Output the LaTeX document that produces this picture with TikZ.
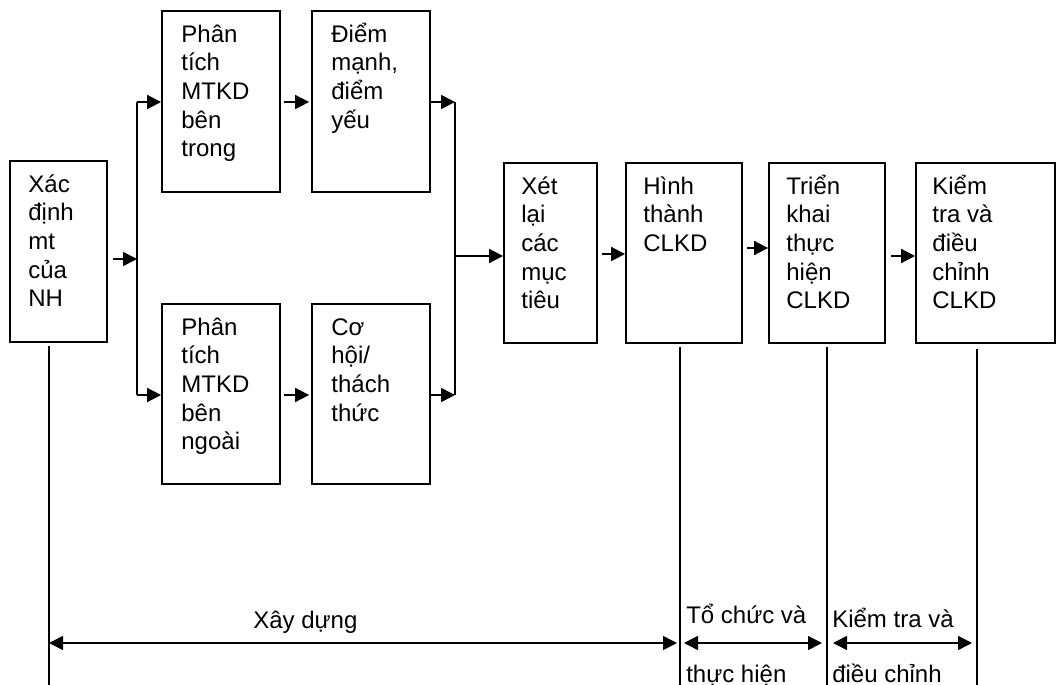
\documentclass[tikz,border=0pt]{standalone}
\usepackage{fontspec}
\setmainfont{Liberation Sans}
\usetikzlibrary{arrows.meta,calc}
\begin{document}
\begin{tikzpicture}[x=0.75pt,y=-0.75pt,
  box/.style={draw,line width=1.3pt,rectangle,inner sep=0pt},
  txt/.style={anchor=north west,inner sep=0pt,align=left,font={\fontsize{18pt}{21.4pt}\selectfont}},
  lbl/.style={anchor=base west,inner sep=0pt,font={\fontsize{18pt}{21.4pt}\selectfont}},
  conn/.style={line width=1.2pt},
  arr/.style={line width=1.2pt,-{Triangle[length=10.5pt,width=10.5pt]}},
  darr/.style={line width=1.2pt,{Triangle[length=10.5pt,width=10.5pt]}-{Triangle[length=10.5pt,width=10.5pt]}}]
\useasboundingbox (0,0) rectangle (1058,685);
% boxes
\node[box,minimum width=72.75pt,minimum height=135.75pt] (b1) at (58.5,251.5) {};
\node[box,minimum width=88.5pt,minimum height=135.75pt] (b2) at (221,101.5) {};
\node[box,minimum width=88.5pt,minimum height=135.75pt] (b3) at (371,101.5) {};
\node[box,minimum width=88.5pt,minimum height=135pt] (b4) at (221,394) {};
\node[box,minimum width=88.5pt,minimum height=135pt] (b5) at (371,394) {};
\node[box,minimum width=69.75pt,minimum height=135pt] (b6) at (550.5,253) {};
\node[box,minimum width=87pt,minimum height=135pt] (b7) at (684,253) {};
\node[box,minimum width=87pt,minimum height=135pt] (b8) at (827,253) {};
\node[box,minimum width=104.25pt,minimum height=135pt] (b9) at (985.5,253) {};
% texts
\node[txt] (t1) at ([xshift=14.25pt,yshift=-6pt]b1.north west) {\rule{0pt}{18pt}Xác\\định\\mt\\của\\NH};
\node[txt] (t2) at ([xshift=15pt,yshift=-6pt]b2.north west) {\rule{0pt}{18pt}Phân\\tích\\MTKD\\bên\\trong};
\node[txt] (t3) at ([xshift=15pt,yshift=-6pt]b3.north west) {\rule{0pt}{18pt}Điểm\\mạnh,\\điểm\\yếu};
\node[txt] (t4) at ([xshift=15pt,yshift=-6pt]b4.north west) {\rule{0pt}{18pt}Phân\\tích\\MTKD\\bên\\ngoài};
\node[txt] (t5) at ([xshift=15pt,yshift=-6pt]b5.north west) {\rule{0pt}{18pt}Cơ\\hội/\\thách\\thức};
\node[txt] (t6) at ([xshift=13.5pt,yshift=-6pt]b6.north west) {\rule{0pt}{18pt}Xét\\lại\\các\\mục\\tiêu};
\node[txt] (t7) at ([xshift=13.5pt,yshift=-6pt]b7.north west) {\rule{0pt}{18pt}Hình\\thành\\CLKD};
\node[txt] (t8) at ([xshift=13.5pt,yshift=-6pt]b8.north west) {\rule{0pt}{18pt}Triển\\khai\\thực\\hiện\\CLKD};
\node[txt] (t9) at ([xshift=12.75pt,yshift=-6pt]b9.north west) {\rule{0pt}{18pt}Kiểm\\tra và\\điều\\chỉnh\\CLKD};
% junction coordinates
\coordinate (a1) at (113,259);
\coordinate (j1m) at (137,259);
\coordinate (j1t) at (137,102);
\coordinate (j1b) at (137,395);
\coordinate (j2t) at (455,102);
\coordinate (j2b) at (455,395);
\coordinate (j2m) at (455,256);
% connectors
\draw[arr] (a1) -- (j1m);
\draw[conn] (j1t) -- (j1b);
\draw[arr] (j1t) -- (b2.west |- j1t);
\draw[arr] (j1b) -- (b4.west |- j1b);
\draw[arr] ([xshift=2.25pt]b2.east |- j1t) -- ([xshift=-1.5pt]b3.west |- j1t);
\draw[arr] ([xshift=2.25pt]b4.east |- j1b) -- ([xshift=-1.5pt]b5.west |- j1b);
\draw[arr] (b3.east |- j2t) -- (j2t);
\draw[arr] (b5.east |- j2b) -- (j2b);
\draw[conn] (j2t) -- (j2b);
\draw[arr] (j2m) -- (b6.west |- j2m);
\coordinate (c67) at (602,254);
\draw[arr] (c67) -- (b7.west |- c67);
\coordinate (c78) at (747,248);
\draw[arr] (c78) -- (b8.west |- c78);
\coordinate (c89) at (891,256);
\draw[arr] (c89) -- (b9.west |- c89);
% vertical lines
\coordinate (v1) at (49,685);
\coordinate (v2) at (680,685);
\coordinate (v3) at (827,685);
\coordinate (v4) at (977,685);
\draw[conn] ([yshift=-2.25pt]b1.south -| v1) -- (v1);
\draw[conn] ([yshift=-2.25pt]b7.south -| v2) -- (v2);
\draw[conn] ([yshift=-2.25pt]b8.south -| v3) -- (v3);
\draw[conn] ([yshift=-3.75pt]b9.south -| v4) -- (v4);
% double arrows
\coordinate (d1a) at (49,643);
\coordinate (d1b) at (677,643);
\coordinate (d2a) at (684,643);
\coordinate (d2b) at (822,643);
\coordinate (d3a) at (833,643);
\coordinate (d3b) at (972,643);
\draw[darr] (d1a) -- (d1b);
\draw[darr] (d2a) -- (d2b);
\draw[darr] (d3a) -- (d3b);
% labels
\node[lbl] (l1) at (253,628) {Xây dựng};
\node[lbl] (l2) at (686,623) {Tổ chức và};
\node[lbl] (l3) at (686,682) {thực hiện};
\node[lbl] (l4) at (832,627) {Kiểm tra và};
\node[lbl] (l5) at (832,682) {điều chỉnh};
\end{tikzpicture}
\end{document}
